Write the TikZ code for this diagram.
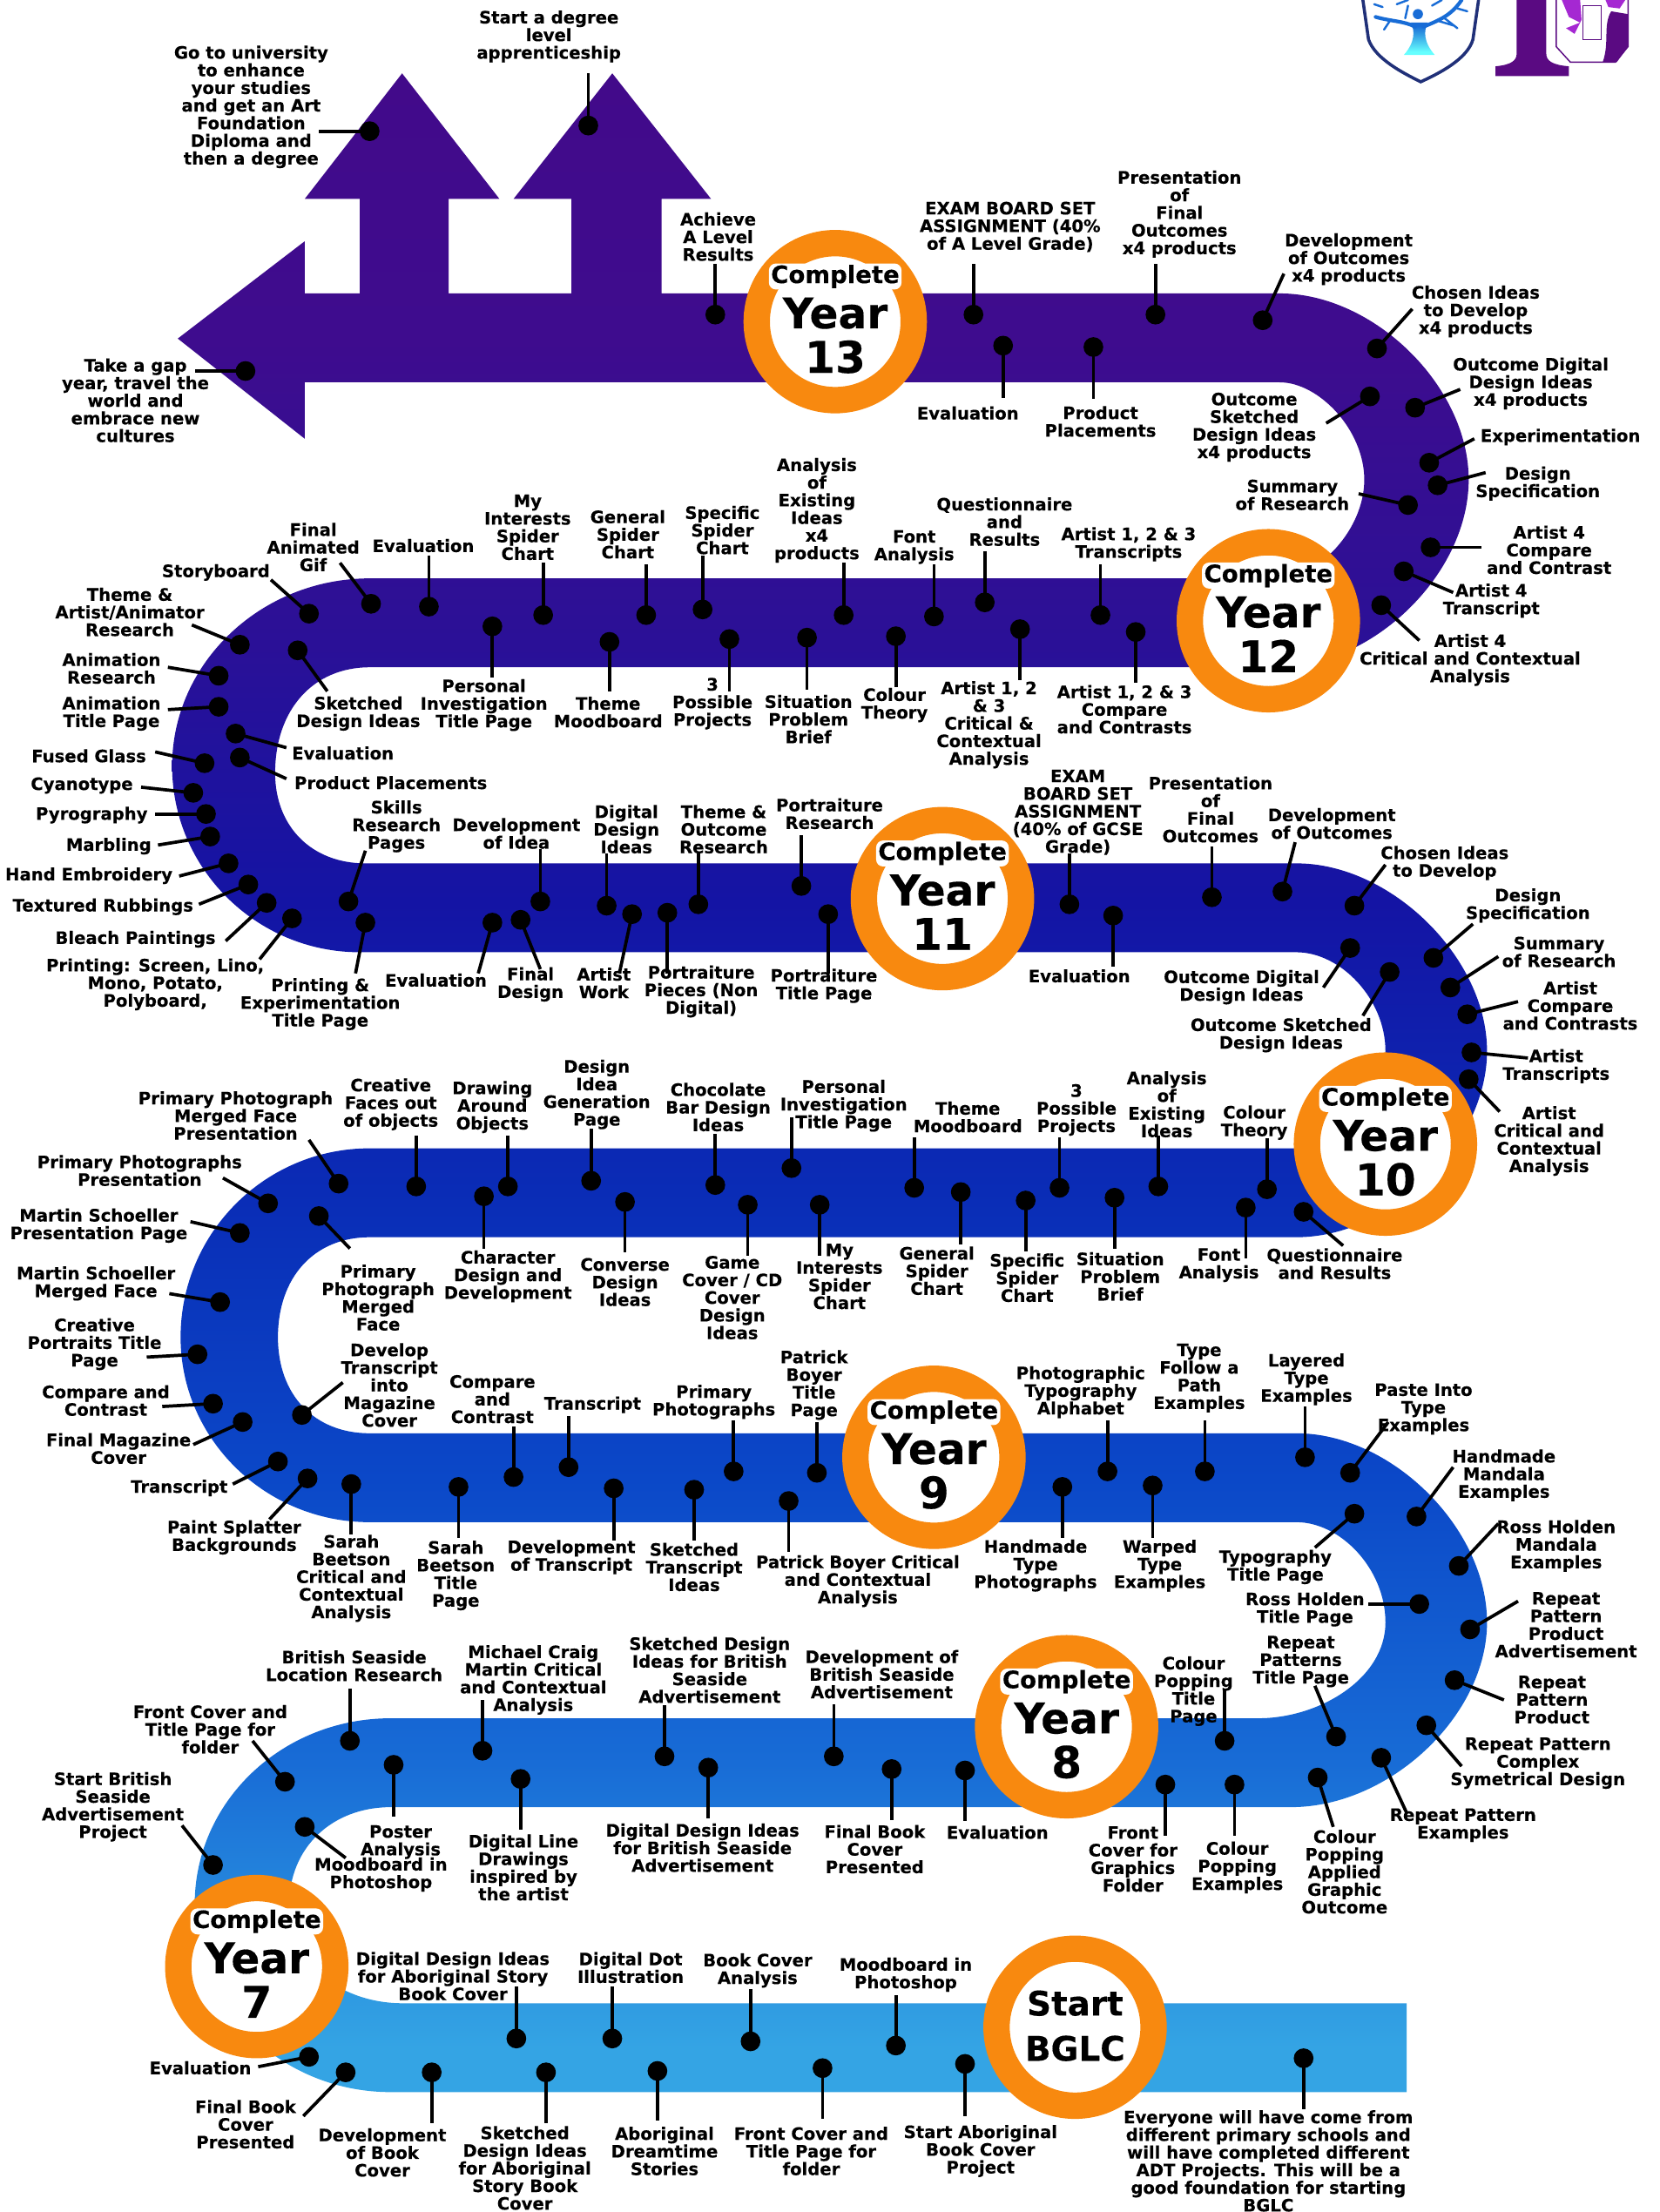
\documentclass[tikz,border=0pt]{standalone}
\usepackage{fontspec}
\setmainfont{DejaVu Sans}[BoldFeatures={FakeBold=0.25}]
\definecolor{cA}{RGB}{66,10,138}
\definecolor{cB}{RGB}{62,12,142}
\definecolor{cC}{RGB}{44,16,150}
\definecolor{cD}{RGB}{20,20,164}
\definecolor{cE}{RGB}{10,44,182}
\definecolor{cF}{RGB}{11,72,200}
\definecolor{cG}{RGB}{24,108,214}
\definecolor{cH}{RGB}{52,164,228}
\definecolor{ringor}{RGB}{248,137,15}
\definecolor{shieldnavy}{RGB}{32,48,120}
\definecolor{logopurple}{RGB}{90,10,130}
\definecolor{logoviolet}{RGB}{165,40,210}
\pgfdeclareverticalshading{ribbonshade}{100bp}{color(0bp)=(cH); color(27bp)=(cH); color(33.9bp)=(cG); color(40.8bp)=(cF); color(47.8bp)=(cE); color(54.8bp)=(cD); color(61.6bp)=(cC); color(68.5bp)=(cB); color(75bp)=(cA); color(100bp)=(cA)}
\pgfdeclareverticalshading{treeshade}{100bp}{color(0bp)=(cyan!60); color(30bp)=(cyan!60); color(70bp)=(cG); color(100bp)=(cG)}
\tikzset{
  lab/.style={font=\fontsize{12.1}{12.5}\selectfont\bfseries,align=center,inner sep=0pt,text=black},
  pindot/.style={circle,fill=black,minimum size=14pt,inner sep=0pt},
  con/.style={line width=2.3pt,black},
  ring/.style={circle,fill=white,draw=ringor,line width=18.7pt,minimum size=111.3pt,inner sep=0pt},
  cword/.style={font=\fontsize{17}{17}\selectfont\bfseries,fill=white,rounded corners=5pt,inner xsep=1.5pt,inner ysep=1pt},
  yword/.style={font=\fontsize{30}{30}\selectfont\bfseries,inner sep=0pt},
  nword/.style={font=\fontsize{31}{31}\selectfont\bfseries,inner sep=0pt},
  sword/.style={font=\fontsize{24}{24}\selectfont\bfseries,inner sep=0pt},
}
\newcounter{pinc}
\def\pin(#1)(#2)(#3)#4{\stepcounter{pinc}\node[lab,yshift=-0.8pt] (L\thepinc) at (#3) {#4};\node[pindot] (D\thepinc) at (#1) {};\coordinate (E\thepinc) at (#2);\draw[con] (D\thepinc.center) -- (E\thepinc);}
\def\yearring#1(#2,#3)#4{\node[ring] (R#1) at (#2,#3) {};
  \node[cword] (C#1) at (#2,#3-32) {Complete};
  \node[yword] (Y#1) at (#2,#3-6) {Year};
  \node[nword] (N#1) at (#2,#3+25) {#4};}
\begin{document}
\begin{tikzpicture}[x=1pt,y=-1pt]
\useasboundingbox (0,0) rectangle (1176,1568);
% ribbon
\begin{scope}
\clip (997,1420) -- (285,1420)
 .. controls (245,1420) and (205,1395) .. (205,1350)
 .. controls (205,1310) and (235,1281) .. (277,1281)
 -- (915,1281)
 .. controls (985,1281) and (1054,1216) .. (1054,1150)
 .. controls (1054,1083) and (986,1016) .. (919,1016)
 -- (262,1016)
 .. controls (223,1016) and (197,989) .. (197,948)
 .. controls (197,905) and (223,877) .. (262,877)
 -- (919,877)
 .. controls (986,877) and (1054,811) .. (1054,745)
 .. controls (1054,679) and (986,612) .. (919,612)
 -- (259,612)
 .. controls (221,612) and (195,586) .. (195,548)
 .. controls (195,503) and (222,473) .. (262,473)
 -- (905,473)
 .. controls (973,473) and (1041,407) .. (1041,340)
 .. controls (1041,274) and (974,208) .. (907,208)
 -- (469,208) -- (469,141) -- (504,141) -- (434,52) -- (364,141) -- (405,141) -- (405,208)
 -- (318,208) -- (318,141) -- (354,141) -- (285,52) -- (216,141) -- (255,141) -- (255,208)
 -- (216,208) -- (216,171) -- (126,240) -- (216,311) -- (216,271) -- (907,271)
 .. controls (935,271) and (967,305) .. (967,340)
 .. controls (967,375) and (935,410) .. (905,410)
 -- (262,410)
 .. controls (185,410) and (122,470) .. (122,543)
 .. controls (122,616) and (182,675) .. (255,675)
 -- (919,675)
 .. controls (950,675) and (982,708) .. (982,745)
 .. controls (982,782) and (950,814) .. (915,814)
 -- (262,814)
 .. controls (188,814) and (128,874) .. (128,948)
 .. controls (128,1020) and (188,1079) .. (262,1079)
 -- (919,1079)
 .. controls (950,1079) and (982,1112) .. (982,1150)
 .. controls (982,1190) and (935,1218) .. (892,1218)
 -- (277,1218)
 .. controls (200,1218) and (138,1277) .. (138,1350)
 .. controls (138,1423) and (200,1483) .. (277,1483)
 -- (997,1483) -- cycle;
\shade[shading=ribbonshade] (0,50) rectangle (1176,1510);
\end{scope}
% logo: shield
\begin{scope}
\clip (966,0) -- (970,28) .. controls (975,42) and (995,52) .. (1007,58) .. controls (1020,52) and (1040,42) .. (1044,28) -- (1048,0) -- cycle;
\fill[white] (960,0) rectangle (1050,60);
\shade[shading=treeshade] (1000,16) .. controls (1003,22) and (1003,30) .. (995,39) -- (1017,39) .. controls (1009,30) and (1009,22) .. (1012,16) -- cycle;
\end{scope}
\fill[cG] (1005,10) circle (3.6);
\draw[cG,line width=2.6pt,line cap=round] (1003,19) .. controls (996,15) and (985,15) .. (975,12);
\draw[cG,line width=2.6pt,line cap=round] (1009,19) .. controls (1018,15) and (1028,12) .. (1036,0);
\draw[cG,line width=1.5pt,line cap=round] (985,15) -- (981,21) (1024,13) -- (1033,20) (1020,15) -- (1030,18) (980,5) -- (974,3) (990,3) -- (998,0) (1015,4) -- (1022,0) (1033,6) -- (1040,8) (996,13) -- (998,4);
\draw[shieldnavy,line width=2.2pt] (966,0) -- (970,28) .. controls (975,42) and (995,52) .. (1007,58) .. controls (1020,52) and (1040,42) .. (1044,28) -- (1048,0);
% logo: purple letter
\fill[logopurple] (1075,0) -- (1096,0) -- (1096,38) .. controls (1096,43) and (1100,46) .. (1112,47) -- (1112,54) -- (1060,54) -- (1060,47) .. controls (1071,46) and (1075,43) .. (1075,38) -- cycle;
\draw[logopurple,line width=0.9pt,fill=white] (1103,0) -- (1103,33) -- (1113,44) -- (1145,44) -- (1154,33) -- (1154,0);
\fill[logoviolet] (1107,0) -- (1112,12) -- (1120,16) -- (1110,20) -- (1116,24) -- (1121,14) -- (1120,0) -- cycle;
\fill[logopurple] (1136,44) .. controls (1141,30) and (1136,18) .. (1142,8) -- (1154,10) -- (1154,33) -- (1146,44) -- cycle;
\fill[logoviolet] (1138,0) -- (1152,0) -- (1148,6) -- (1140,5) -- cycle;
\draw[logopurple,line width=0.9pt,fill=white] (1122,4) rectangle (1135,28);
% rings
\yearring{13}(592,228){13}
\yearring{12}(899,440){12}
\yearring{11}(668,637){11}
\yearring{10}(982,811){10}
\yearring{9}(662,1033){9}
\yearring{8}(756,1224){8}
\yearring{7}(182,1394){7}
\node[ring] (Rs) at (762,1437) {};
\node[sword] (St) at (762,1420) {Start};
\node[sword] (Bg) at (762,1452) {BGLC};
% pins: top
\pin(262,93)(226,93)(178,75){Go to university\\to enhance\\your studies\\and get an Art\\Foundation\\Diploma and\\then a degree}
\pin(417,89)(417,52)(389,25){Start a degree\\level\\apprenticeship}
\pin(174,263)(138,263)(96,283){Take a gap\\year, travel the\\world and\\embrace new\\cultures}
\pin(507,223)(507,187)(509,167){Achieve\\A Level\\Results}
\pin(690,223)(690,187)(716,160){EXAM BOARD SET\\ASSIGNMENT (40\%\\of A Level Grade)}
\pin(819,223)(819,187)(836,151){Presentation\\of\\Final\\Outcomes\\x4 products}
\pin(895,227)(910,194)(956,183){Development\\of Outcomes\\x4 products}
\pin(976,247)(1001,219)(1046,220){Chosen Ideas\\to Develop\\x4 products}
\pin(1003,289)(1035,276)(1085,271){Outcome Digital\\Design Ideas\\x4 products}
\pin(1013,328)(1045,311)(1106,309){Experimentation}
\pin(1019,344)(1053,335)(1090,342){Design\\Specification}
\pin(1014,388)(1050,388)(1098,389){Artist 4\\Compare\\and Contrast}
\pin(995,405)(1030,420)(1057,425){Artist 4\\Transcript}
\pin(979,429)(1006,454)(1042,467){Artist 4\\Critical and Contextual\\Analysis}
\pin(998,358)(963,350)(916,350){Summary\\of Research}
\pin(971,281)(940,300)(889,302){Outcome\\Sketched\\Design Ideas\\x4 products}
\pin(711,245)(711,282)(686,292){Evaluation}
\pin(775,246)(775,283)(780,298){Product\\Placements}
% band 12 above
\pin(698,427)(698,391)(712,369){Questionnaire\\and\\Results}
\pin(780,436)(780,400)(800,385){Artist 1, 2 \& 3\\Transcripts}
\pin(662,437)(662,400)(648,387){Font\\Analysis}
\pin(598,436)(598,399)(579,361){Analysis\\of\\Existing\\Ideas\\x4\\products}
\pin(498,432)(498,394)(512,375){Specific\\Spider\\Chart}
\pin(458,436)(458,400)(445,378){General\\Spider\\Chart}
\pin(385,436)(385,399)(374,373){My\\Interests\\Spider\\Chart}
\pin(304,430)(304,394)(300,386){Evaluation}
\pin(263,428)(241,399)(222,387){Final\\Animated\\Gif}
\pin(219,435)(192,411)(153,405){Storyboard}
\pin(170,457)(136,443)(92,433){Theme \&\\Artist/Animator\\Research}
\pin(155,479)(119,473)(79,473){Animation\\Research}
\pin(155,501)(119,503)(79,505){Animation\\Title Page}
\pin(145,541)(110,533)(63,535){Fused Glass}
\pin(137,562)(100,558)(58,556){Cyanotype}
\pin(146,577)(110,577)(65,577){Pyrography}
\pin(149,593)(112,599)(77,599){Marbling}
\pin(162,612)(127,621)(63,620){Hand Embroidery}
\pin(176,627)(141,641)(73,642){Textured Rubbings}
\pin(189,640)(160,667)(96,665){Bleach Paintings}
\pin(207,651)(184,680)(110,697){Printing: Screen, Lino,\\Mono, Potato,\\Polyboard,}
\pin(259,654)(252,690)(227,711){Printing \&\\Experimentation\\Title Page}
\pin(349,654)(339,690)(309,694){Evaluation}
\pin(369,652)(383,687)(376,697){Final\\Design}
\pin(448,648)(439,690)(428,696){Artist\\Work}
\pin(473,647)(473,690)(497,702){Portraiture\\Pieces (Non\\Digital)}
\pin(587,648)(587,690)(584,698){Portraiture\\Title Page}
% band 11 above
\pin(247,639)(259,603)(281,585){Skills\\Research\\Pages}
\pin(383,639)(383,602)(366,590){Development\\of Idea}
\pin(430,642)(430,605)(444,587){Digital\\Design\\Ideas}
\pin(495,641)(495,605)(513,587){Theme \&\\Outcome\\Research}
\pin(568,628)(568,592)(588,576){Portraiture\\Research}
\pin(758,641)(758,605)(764,575){EXAM\\BOARD SET\\ASSIGNMENT\\(40\% of GCSE\\Grade)}
\pin(859,636)(859,600)(858,573){Presentation\\of\\Final\\Outcomes}
\pin(909,632)(918,597)(944,583){Development\\of Outcomes}
\pin(960,642)(982,613)(1024,611){Chosen Ideas\\to Develop}
\pin(1016,679)(1044,655)(1083,641){Design\\Specification}
\pin(1028,700)(1062,678)(1105,674){Summary\\of Research}
\pin(1040,719)(1076,710)(1113,712){Artist\\Compare\\and Contrasts}
\pin(1043,746)(1083,750)(1103,755){Artist\\Transcripts}
\pin(1041,765)(1063,788)(1098,808){Artist\\Critical and\\Contextual\\Analysis}
\pin(789,649)(789,685)(765,691){Evaluation}
\pin(957,672)(938,700)(880,699){Outcome Digital\\Design Ideas}
\pin(985,689)(966,720)(908,733){Outcome Sketched\\Design Ideas}
% band 12 below
\pin(211,461)(232,490)(254,505){Sketched\\Design Ideas}
\pin(349,444)(349,480)(343,499){Personal\\Investigation\\Title Page}
\pin(432,455)(432,490)(431,504){Theme\\Moodboard}
\pin(517,453)(517,490)(505,498){3\\Possible\\Projects}
\pin(572,452)(572,489)(573,509){Situation\\Problem\\Brief}
\pin(635,451)(635,487)(634,499){Colour\\Theory}
\pin(723,446)(723,482)(701,513){Artist 1, 2\\\& 3\\Critical \&\\Contextual\\Analysis}
\pin(805,448)(805,484)(797,502){Artist 1, 2 \& 3\\Compare\\and Contrasts}
\pin(167,520)(203,530)(243,533){Evaluation}
\pin(170,537)(203,552)(277,554){Product Placements}
% band 10
\pin(240,839)(219,808)(167,790){Primary Photograph\\Merged Face\\Presentation}
\pin(190,853)(158,835)(99,829){Primary Photographs\\Presentation}
\pin(170,874)(135,866)(70,868){Martin Schoeller\\Presentation Page}
\pin(156,923)(120,917)(68,909){Martin Schoeller\\Merged Face}
\pin(140,960)(104,962)(67,952){Creative\\Portraits Title\\Page}
\pin(151,995)(115,997)(75,992){Compare and\\Contrast}
\pin(172,1008)(137,1024)(84,1026){Final Magazine\\Cover}
\pin(197,1036)(165,1052)(127,1054){Transcript}
\pin(218,1048)(191,1077)(166,1089){Paint Splatter\\Backgrounds}
\pin(249,1052)(249,1088)(249,1118){Sarah\\Beetson\\Critical and\\Contextual\\Analysis}
\pin(325,1054)(325,1090)(323,1116){Sarah\\Beetson\\Title\\Page}
\pin(435,1055)(435,1092)(405,1103){Development\\of Transcript}
\pin(492,1056)(492,1092)(492,1110){Sketched\\Transcript\\Ideas}
\pin(559,1064)(559,1100)(608,1120){Patrick Boyer Critical\\and Contextual\\Analysis}
\pin(295,841)(295,805)(277,782){Creative\\Faces out\\of objects}
\pin(360,841)(360,805)(349,784){Drawing\\Around\\Objects}
\pin(419,837)(419,800)(423,775){Design\\Idea\\Generation\\Page}
\pin(507,840)(507,804)(509,784){Chocolate\\Bar Design\\Ideas}
\pin(561,828)(561,792)(598,783){Personal\\Investigation\\Title Page}
\pin(648,842)(648,806)(686,791){Theme\\Moodboard}
\pin(751,842)(751,806)(763,786){3\\Possible\\Projects}
\pin(821,841)(821,805)(827,782){Analysis\\of\\Existing\\Ideas}
\pin(898,843)(898,807)(889,795){Colour\\Theory}
\pin(226,862)(248,885)(268,919){Primary\\Photograph\\Merged\\Face}
\pin(343,848)(343,885)(360,904){Character\\Design and\\Development}
\pin(443,852)(443,888)(443,908){Converse\\Design\\Ideas}
\pin(530,854)(530,890)(519,919){Game\\Cover / CD\\Cover\\Design\\Ideas}
\pin(581,854)(581,890)(595,904){My\\Interests\\Spider\\Chart}
\pin(681,845)(681,882)(664,900){General\\Spider\\Chart}
\pin(727,851)(727,887)(728,905){Specific\\Spider\\Chart}
\pin(790,849)(790,885)(794,904){Situation\\Problem\\Brief}
\pin(883,856)(883,892)(864,896){Font\\Analysis}
\pin(924,859)(952,883)(946,895){Questionnaire\\and Results}
% band 9
\pin(214,1003)(243,980)(276,981){Develop\\Transcript\\into\\Magazine\\Cover}
\pin(364,1047)(364,1011)(349,991){Compare\\and\\Contrast}
\pin(403,1040)(403,1004)(420,995){Transcript}
\pin(520,1043)(520,1007)(506,993){Primary\\Photographs}
\pin(579,1044)(579,1008)(577,981){Patrick\\Boyer\\Title\\Page}
\pin(785,1043)(785,1007)(766,986){Photographic\\Typography\\Alphabet}
\pin(854,1043)(854,1007)(850,976){Type\\Follow a\\Path\\Examples}
\pin(925,1033)(925,997)(926,977){Layered\\Type\\Examples}
\pin(957,1044)(984,1008)(1009,998){Paste Into\\Type\\Examples}
\pin(1004,1075)(1030,1040)(1066,1045){Handmade\\Mandala\\Examples}
\pin(1034,1110)(1062,1080)(1103,1095){Ross Holden\\Mandala\\Examples}
\pin(1042,1155)(1076,1135)(1110,1151){Repeat\\Pattern\\Product\\Advertisement}
\pin(1006,1137)(970,1137)(925,1140){Ross Holden\\Title Page}
\pin(1031,1191)(1066,1205)(1100,1204){Repeat\\Pattern\\Product}
\pin(1011,1223)(1036,1252)(1090,1249){Repeat Pattern\\Complex\\Symetrical Design}
\pin(979,1246)(997,1285)(1037,1293){Repeat Pattern\\Examples}
\pin(947,1231)(932,1195)(922,1177){Repeat\\Patterns\\Title Page}
\pin(868,1234)(868,1198)(846,1198){Colour\\Popping\\Title\\Page}
\pin(934,1260)(945,1295)(953,1326){Colour\\Popping\\Applied\\Graphic\\Outcome}
\pin(875,1265)(875,1301)(877,1323){Colour\\Popping\\Examples}
\pin(826,1265)(826,1301)(803,1317){Front\\Cover for\\Graphics\\Folder}
\pin(684,1255)(684,1291)(707,1298){Evaluation}
\pin(632,1254)(632,1290)(620,1310){Final Book\\Cover\\Presented}
\pin(502,1253)(502,1289)(498,1309){Digital Design Ideas\\for British Seaside\\Advertisement}
\pin(369,1261)(369,1297)(371,1323){Digital Line\\Drawings\\inspired by\\the artist}
\pin(279,1251)(279,1288)(284,1305){Poster\\Analysis}
\pin(216,1295)(245,1317)(270,1328){Moodboard in\\Photoshop}
\pin(151,1322)(129,1294)(80,1280){Start British\\Seaside\\Advertisement\\Project}
\pin(202,1263)(179,1234)(149,1225){Front Cover and\\Title Page for\\folder}
\pin(248,1234)(248,1197)(251,1180){British Seaside\\Location Research}
\pin(342,1241)(342,1205)(378,1190){Michael Craig\\Martin Critical\\and Contextual\\Analysis}
\pin(471,1245)(471,1209)(503,1183){Sketched Design\\Ideas for British\\Seaside\\Advertisement}
\pin(591,1245)(591,1208)(625,1186){Development of\\British Seaside\\Advertisement}
\pin(753,1054)(753,1090)(734,1109){Handmade\\Type\\Photographs}
\pin(817,1053)(817,1090)(822,1109){Warped\\Type\\Examples}
\pin(960,1073)(932,1097)(904,1110){Typography\\Title Page}
% bottom
\pin(366,1445)(366,1408)(321,1400){Digital Design Ideas\\for Aboriginal Story\\Book Cover}
\pin(434,1445)(434,1408)(447,1394){Digital Dot\\Illustration}
\pin(532,1447)(532,1410)(537,1396){Book Cover\\Analysis}
\pin(635,1450)(635,1414)(642,1399){Moodboard in\\Photoshop}
\pin(219,1458)(183,1465)(142,1465){Evaluation}
\pin(245,1469)(215,1500)(174,1505){Final Book\\Cover\\Presented}
\pin(306,1469)(306,1505)(271,1525){Development\\of Book\\Cover}
\pin(387,1469)(387,1505)(372,1536){Sketched\\Design Ideas\\for Aboriginal\\Story Book\\Cover}
\pin(466,1468)(466,1503)(471,1524){Aboriginal\\Dreamtime\\Stories}
\pin(583,1466)(583,1502)(575,1524){Front Cover and\\Title Page for\\folder}
\pin(684,1463)(684,1500)(695,1524){Start Aboriginal\\Book Cover\\Project}
\pin(924,1459)(924,1495)(899,1531){Everyone will have come from\\different primary schools and\\will have completed different\\ADT Projects. This will be a\\good foundation for starting\\BGLC}
\end{tikzpicture}
\end{document}
